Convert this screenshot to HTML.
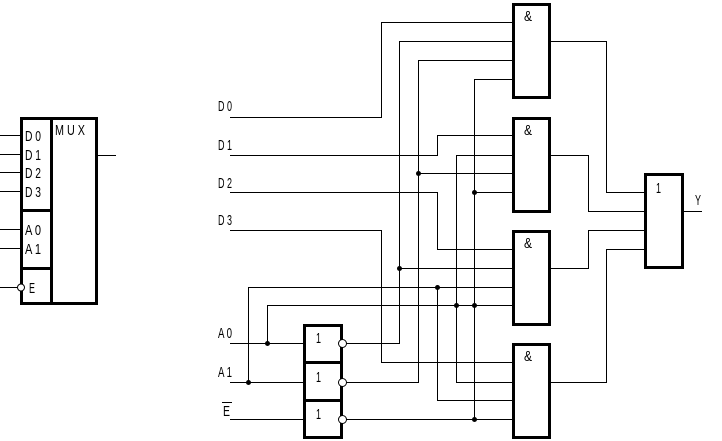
<!DOCTYPE html>
<html><head><meta charset="utf-8"><style>
html,body{margin:0;padding:0;background:#fff;}
svg{display:block;}
text{font-family:"Liberation Sans",sans-serif;font-size:15px;fill:#000;}
</style></head><body>
<svg width="722" height="441" viewBox="0 0 722 441" xmlns="http://www.w3.org/2000/svg">
<g stroke="#000" stroke-width="1" fill="none" shape-rendering="crispEdges">
<line x1="0" y1="135.5" x2="20" y2="135.5"/>
<line x1="0" y1="154.5" x2="20" y2="154.5"/>
<line x1="0" y1="172.5" x2="20" y2="172.5"/>
<line x1="0" y1="191.5" x2="20" y2="191.5"/>
<line x1="0" y1="229.5" x2="20" y2="229.5"/>
<line x1="0" y1="248.5" x2="20" y2="248.5"/>
<line x1="0" y1="287.5" x2="17" y2="287.5"/>
<line x1="97" y1="155.5" x2="116" y2="155.5"/>
<polyline points="230,117.5 381.5,117.5 381.5,22.5 513,22.5"/>
<polyline points="230,155.5 437.5,155.5 437.5,135.5 513,135.5"/>
<polyline points="230,192.5 437.5,192.5 437.5,249.5 513,249.5"/>
<polyline points="230,230.5 381.5,230.5 381.5,362.5 513,362.5"/>
<polyline points="346,343.5 399.5,343.5 399.5,41.5 513,41.5"/>
<line x1="399.5" y1="268.5" x2="513" y2="268.5"/>
<polyline points="346,382.5 418.5,382.5 418.5,60.5 513,60.5"/>
<line x1="418.5" y1="173.5" x2="513" y2="173.5"/>
<polyline points="346,419.5 474.5,419.5 474.5,79.5 513,79.5"/>
<line x1="474.5" y1="192.5" x2="513" y2="192.5"/>
<line x1="474.5" y1="419.5" x2="513" y2="419.5"/>
<line x1="230" y1="343.5" x2="303" y2="343.5"/>
<polyline points="267.5,343.5 267.5,305.5 513,305.5"/>
<polyline points="456.5,305.5 456.5,155.5 513,155.5"/>
<polyline points="456.5,305.5 456.5,382.5 513,382.5"/>
<line x1="230" y1="382.5" x2="303" y2="382.5"/>
<polyline points="248.5,382.5 248.5,287.5 513,287.5"/>
<polyline points="437.5,287.5 437.5,400.5 513,400.5"/>
<line x1="230" y1="419.5" x2="303" y2="419.5"/>
<polyline points="550,41.5 606.5,41.5 606.5,192.5 645,192.5"/>
<polyline points="550,155.5 588.5,155.5 588.5,211.5 645,211.5"/>
<polyline points="550,268.5 588.5,268.5 588.5,230.5 645,230.5"/>
<polyline points="550,382.5 606.5,382.5 606.5,249.5 645,249.5"/>
<line x1="683" y1="211.5" x2="702" y2="211.5"/>
<line x1="222" y1="402.5" x2="232" y2="402.5"/>
</g>
<g stroke="#000" stroke-width="3" fill="none">
<rect x="21.5" y="118.5" width="75" height="185"/>
<line x1="51.5" y1="118" x2="51.5" y2="304"/>
<line x1="21" y1="210.5" x2="51" y2="210.5"/>
<line x1="21" y1="268.5" x2="51" y2="268.5"/>
<rect x="513.5" y="4.5" width="36" height="93"/>
<rect x="513.5" y="118.5" width="36" height="93"/>
<rect x="513.5" y="231.5" width="36" height="93"/>
<rect x="513.5" y="344.5" width="36" height="93"/>
<rect x="645.5" y="174.5" width="37" height="93"/>
<rect x="304.5" y="325.5" width="37" height="112"/>
<line x1="304" y1="362.5" x2="342" y2="362.5"/>
<line x1="304" y1="400.5" x2="342" y2="400.5"/>
</g>
<g stroke="#000" stroke-width="1" fill="#fff">
<circle cx="21" cy="287.5" r="3.5"/>
<circle cx="342.5" cy="343.5" r="4"/>
<circle cx="342.5" cy="382.5" r="4"/>
<circle cx="342.5" cy="419.5" r="4"/>
</g>
<g fill="#000">
<circle cx="418.5" cy="173.5" r="2.5"/>
<circle cx="474.5" cy="192.5" r="2.5"/>
<circle cx="399.5" cy="268.5" r="2.5"/>
<circle cx="437.5" cy="287.5" r="2.5"/>
<circle cx="456.5" cy="305.5" r="2.5"/>
<circle cx="474.5" cy="305.5" r="2.5"/>
<circle cx="267.5" cy="343.5" r="2.5"/>
<circle cx="248.5" cy="382.5" r="2.5"/>
<circle cx="474.5" cy="419.5" r="2.5"/>
</g>
<g>
<text x="25" y="141" textLength="16" lengthAdjust="spacingAndGlyphs">D 0</text>
<text x="25" y="160" textLength="16" lengthAdjust="spacingAndGlyphs">D 1</text>
<text x="25" y="178" textLength="16" lengthAdjust="spacingAndGlyphs">D 2</text>
<text x="25" y="197" textLength="16" lengthAdjust="spacingAndGlyphs">D 3</text>
<text x="25" y="235" textLength="16" lengthAdjust="spacingAndGlyphs">A 0</text>
<text x="25" y="254" textLength="16" lengthAdjust="spacingAndGlyphs">A 1</text>
<text x="29" y="293" textLength="6" lengthAdjust="spacingAndGlyphs">E</text>
<text x="55" y="135" textLength="30" lengthAdjust="spacingAndGlyphs">M U X</text>
<text x="218" y="111" textLength="14" lengthAdjust="spacingAndGlyphs">D 0</text>
<text x="218" y="150" textLength="14" lengthAdjust="spacingAndGlyphs">D 1</text>
<text x="218" y="188" textLength="14" lengthAdjust="spacingAndGlyphs">D 2</text>
<text x="218" y="225" textLength="14" lengthAdjust="spacingAndGlyphs">D 3</text>
<text x="218" y="338" textLength="14" lengthAdjust="spacingAndGlyphs">A 0</text>
<text x="218" y="377" textLength="14" lengthAdjust="spacingAndGlyphs">A 1</text>
<text x="223" y="416" textLength="7" lengthAdjust="spacingAndGlyphs">E</text>
<text x="524" y="21" textLength="8" lengthAdjust="spacingAndGlyphs">&amp;</text>
<text x="524" y="135" textLength="8" lengthAdjust="spacingAndGlyphs">&amp;</text>
<text x="524" y="248" textLength="8" lengthAdjust="spacingAndGlyphs">&amp;</text>
<text x="524" y="361" textLength="8" lengthAdjust="spacingAndGlyphs">&amp;</text>
<text x="656" y="193" textLength="5" lengthAdjust="spacingAndGlyphs">1</text>
<text x="695" y="205" textLength="6" lengthAdjust="spacingAndGlyphs">Y</text>
<text x="316" y="343" textLength="5" lengthAdjust="spacingAndGlyphs">1</text>
<text x="316" y="382" textLength="5" lengthAdjust="spacingAndGlyphs">1</text>
<text x="316" y="419" textLength="5" lengthAdjust="spacingAndGlyphs">1</text>
</g>
</svg>
</body></html>
